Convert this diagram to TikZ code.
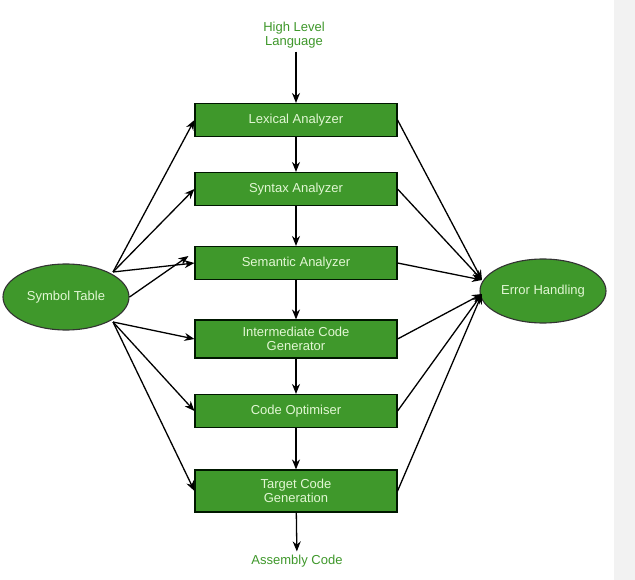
\documentclass[tikz,border=0pt]{standalone}
\usepackage{fontspec}
\setmainfont{Liberation Sans}
\usetikzlibrary{shapes.geometric,arrows.meta}
\begin{document}
\begin{tikzpicture}[x=1pt,y=-1pt,
  box/.style={draw=black!70!green!30!black,fill=gfill,line width=1.1pt,minimum width=202pt,text=gtext,font=\fontsize{13}{15}\selectfont,align=center,inner sep=1pt},
  ell/.style={ellipse,draw=black!80,fill=gfill,line width=1.1pt,text=gtext,font=\fontsize{13}{15}\selectfont,inner sep=0pt},
  arr/.style={-{Stealth[length=10pt,width=8pt]},line width=1.3pt},
  lbl/.style={text=gtop,font=\fontsize{13}{15}\selectfont,align=center}]
\definecolor{gfill}{HTML}{3F982B}
\definecolor{gtext}{HTML}{E2F7D4}
\definecolor{gtop}{HTML}{3F982B}
\useasboundingbox (0,0) rectangle (635,580);
\fill[white] (0,0) rectangle (635,580);
\fill[black!5] (614,0) rectangle (635,580);
\node[lbl] (hll) at (294,35) {High Level\\[-1pt]Language};
\node[box,minimum height=33pt] (lex) at (296,120) {Lexical Analyzer};
\node[box,minimum height=33pt] (syn) at (296,189) {Syntax Analyzer};
\node[box,minimum height=33pt] (sem) at (296,263) {Semantic Analyzer};
\node[box,minimum height=38pt] (icg) at (296,339) {Intermediate Code\\[-1pt]Generator};
\node[box,minimum height=33pt] (opt) at (296,411) {Code Optimiser};
\node[box,minimum height=42pt] (tcg) at (296,491) {Target Code\\[-1pt]Generation};
\node[lbl] (asm) at (297,561) {Assembly Code};
\node[ell,minimum width=126pt,minimum height=66pt] (sym) at (66,297) {Symbol Table};
\node[ell,minimum width=126pt,minimum height=64pt] (err) at (543,291) {Error Handling};
\draw[arr] (hll.south -| lex.north) -- (lex);
\draw[arr] (lex) -- (syn);
\draw[arr] (syn) -- (sem);
\draw[arr] (sem) -- (icg);
\draw[arr] (icg) -- (opt);
\draw[arr] (opt) -- (tcg);
\draw[arr] (tcg) -- (asm);
\coordinate (st) at (113,272);
\coordinate (sb) at (113,322);
\draw[arr] (st) -- (lex.west);
\draw[arr] (st) -- (syn.west);
\draw[arr] (st) -- (sem.west);
\draw[arr] (sym.east) -- ([xshift=-6pt,yshift=7pt]sem.west);
\draw[arr] (sb) -- (icg.west);
\draw[arr] (sb) -- (opt.west);
\draw[arr] (sb) -- (tcg.west);
\coordinate (ea) at (482,280);
\coordinate (eb) at (482,294);
\draw[arr] (lex.east) -- (ea);
\draw[arr] (syn.east) -- (ea);
\draw[arr] (sem.east) -- (ea);
\draw[arr] (icg.east) -- (eb);
\draw[arr] (opt.east) -- (eb);
\draw[arr] (tcg.east) -- (eb);
\end{tikzpicture}
\end{document}
